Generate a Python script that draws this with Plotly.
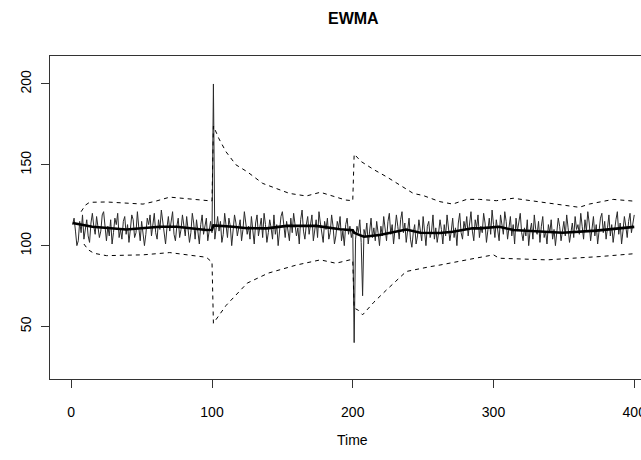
import plotly.graph_objects as go

# ---- data (read/estimated from the reference) ----
values = [
    113, 117, 109, 100, 103, 115, 108, 119, 104, 111, 116, 106, 102, 114, 120, 112, 107, 118, 110, 105,
    109, 119, 121, 111, 103, 112, 106, 116, 101, 108, 117, 113, 120, 105, 110, 104, 115, 118, 107, 113,
    102, 110, 119, 116, 105, 108, 121, 111, 103, 115, 109, 100, 107, 117, 113, 119, 106, 112, 120, 108,
    104, 116, 110, 122, 114, 106, 101, 111, 118, 109, 115, 121, 107, 103, 112, 117, 105, 110, 119, 113,
    106, 118, 111, 102, 108, 120, 114, 104, 116, 109, 101, 113, 119, 107, 111, 117, 103, 110, 115, 108,
    200, 104, 113, 118, 109, 115, 102, 107, 120, 111, 105, 117, 112, 100, 108, 119, 114, 106, 111, 116,
    103, 110, 121, 115, 107, 112, 104, 118, 109, 101, 114, 119, 106, 111, 117, 105, 120, 113, 102, 108,
    116, 111, 104, 119, 107, 113, 100, 109, 118, 121, 112, 105, 115, 110, 103, 117, 108, 120, 114, 106,
    111, 101, 116, 122, 109, 104, 113, 118, 107, 112, 119, 103, 110, 116, 105, 121, 114, 108, 102, 115,
    110, 117, 104, 108, 119, 112, 101, 106, 115, 111, 118, 103, 109, 100, 113, 117, 107, 112, 105, 110,
    40, 104, 112, 108, 116, 102, 69, 110, 106, 114, 101, 109, 117, 105, 111, 103, 115, 108, 100, 112,
    106, 118, 110, 103, 115, 120, 107, 113, 101, 109, 119, 112, 104, 116, 121, 108, 114, 102, 111, 117,
    104, 99, 108, 113, 101, 106, 116, 110, 103, 118, 107, 100, 112, 115, 105, 109, 119, 104, 111, 102,
    108, 116, 110, 101, 113, 106, 119, 112, 103, 109, 117, 105, 111, 100, 114, 120, 108, 104, 115, 110,
    118, 106, 113, 121, 109, 103, 116, 111, 119, 105, 112, 108, 120, 114, 102, 110, 117, 107, 122, 113,
    105, 116, 109, 103, 119, 112, 107, 121, 115, 104, 110, 118, 106, 113, 101, 117, 109, 114, 120, 108,
    103, 111, 106, 116, 100, 109, 114, 104, 119, 110, 107, 115, 102, 112, 118, 105, 109, 101, 113, 108,
    116, 104, 110, 100, 107, 117, 112, 103, 109, 115, 106, 119, 111, 102, 108, 114, 105, 118, 110, 113,
    107, 120, 112, 104, 116, 109, 121, 114, 103, 111, 118, 106, 113, 101, 109, 117, 120, 108, 115, 104,
    111, 119, 106, 113, 102, 110, 116, 121, 107, 114, 101, 109, 118, 112, 105, 115, 120, 108, 113, 119,
]
time = list(range(1, len(values) + 1))

ewma_t = [1, 15, 39, 50, 63, 75, 96, 100, 101, 115, 125, 139, 153, 174, 191, 200, 201, 205, 208,
          219, 224, 238, 248, 262, 271, 285, 290, 304, 314, 333, 349, 373, 399, 400]
ewma_v = [114.0, 111.7, 110.0, 110.8, 111.7, 111.7, 109.7, 109.8, 112.5, 111.7, 110.8, 110.7, 112.2,
          112.2, 110.1, 109.5, 108.0, 106.5, 105.5, 106.6, 107.6, 110.0, 108.0, 107.8, 108.6, 110.7,
          110.7, 111.7, 109.7, 108.6, 108.0, 109.3, 111.4, 111.6]

ucl_t = [7, 10, 13, 25, 51, 60, 70, 85, 96, 100, 101, 105, 110, 117, 125, 133, 136, 155, 167, 177,
         195, 200, 201, 206, 215, 224, 231, 243, 250, 262, 271, 281, 290, 302, 314, 338, 361, 368,
         385, 400]
ucl_v = [121.0, 125.0, 126.8, 127.0, 125.7, 127.5, 130.0, 129.0, 128.0, 127.6, 174.0, 166.0, 158.0,
         150.0, 145.7, 140.6, 138.5, 132.3, 130.7, 133.0, 128.2, 127.8, 156.6, 152.0, 147.0, 142.6,
         139.0, 132.3, 131.0, 127.2, 125.7, 128.6, 128.6, 127.8, 129.3, 126.5, 123.7, 125.7, 128.6,
         127.5]

lcl_t = [9, 12, 16, 25, 51, 70, 85, 96, 99, 100, 101, 110, 125, 140, 150, 160, 177, 188, 198, 200,
         201, 204, 207, 215, 224, 238, 255, 262, 281, 300, 304, 338, 356, 375, 400]
lcl_v = [101.0, 97.5, 95.3, 93.8, 94.3, 95.7, 94.0, 92.8, 90.5, 90.1, 52.0, 63.0, 76.8, 83.0, 85.5,
         88.0, 91.2, 89.1, 91.2, 91.0, 61.4, 60.0, 57.2, 65.0, 72.6, 84.0, 87.0, 88.0, 91.2, 94.3,
         92.2, 91.2, 92.2, 93.2, 95.0]

x_ticks = [0, 100, 200, 300, 400]
y_ticks = [50, 100, 150, 200]

FONT = "Liberation Sans, Arial, sans-serif"

fig = go.Figure()
fig.add_trace(go.Scatter(x=time, y=values, mode="lines",
                         line=dict(color="#2a2a2a", width=1), showlegend=False))
fig.add_trace(go.Scatter(x=ewma_t, y=ewma_v, mode="lines",
                         line=dict(color="black", width=2.6), showlegend=False))
fig.add_trace(go.Scatter(x=ucl_t, y=ucl_v, mode="lines",
                         line=dict(color="black", width=1, dash="4px,4px"), showlegend=False))
fig.add_trace(go.Scatter(x=lcl_t, y=lcl_v, mode="lines",
                         line=dict(color="black", width=1, dash="4px,4px"), showlegend=False))

fig.update_layout(
    width=641, height=460,
    margin=dict(l=50, r=0, t=56, b=81),
    paper_bgcolor="white", plot_bgcolor="white",
    font=dict(family=FONT, size=14, color="black"),
    xaxis=dict(range=[-15.1, 404.8], tickvals=x_ticks, ticktext=[str(v) for v in x_ticks],
               showgrid=False, zeroline=False, showline=True, mirror=True,
               linecolor="#333", linewidth=1, ticks="outside", ticklen=8,
               tickcolor="#333", ticklabelstandoff=12, ticklabeloverflow="allow",
               automargin=False),
    yaxis=dict(range=[17.5, 217.3], tickvals=y_ticks, ticktext=[str(v) for v in y_ticks],
               showgrid=False, zeroline=False, showline=True, mirror=False,
               linecolor="#333", linewidth=1, ticks="outside", ticklen=8,
               tickcolor="#333", tickangle=-90, ticklabelstandoff=4, automargin=False),
    annotations=[
        dict(text="<b>EWMA</b>", x=0.514, y=1.1165, xref="paper", yref="paper",
             xanchor="center", yanchor="middle", showarrow=False,
             font=dict(family=FONT, size=16, color="black")),
        dict(text="Time", x=0.511, y=-0.1876, xref="paper", yref="paper",
             xanchor="center", yanchor="middle", showarrow=False,
             font=dict(family=FONT, size=14, color="black")),
    ],
)

fig.write_html("out.html")
